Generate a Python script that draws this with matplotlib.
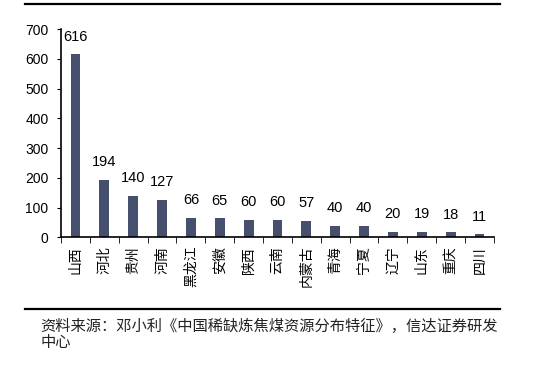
import matplotlib.pyplot as plt
from matplotlib.lines import Line2D
import numpy as np

plt.rcParams['font.family'] = ['Liberation Sans', 'Noto Sans CJK SC', 'DejaVu Sans']

provinces = ['山西', '河北', '贵州', '河南', '黑龙江', '安徽', '陕西', '云南',
             '内蒙古', '青海', '宁夏', '辽宁', '山东', '重庆', '四川']
reserves = [616, 194, 140, 127, 66, 65, 60, 60, 57, 40, 40, 20, 19, 18, 11]

bar_color = '#46506e'

fig = plt.figure(figsize=(5.5, 3.74), dpi=100)
ax = fig.add_axes([0.111, 0.365, 0.787, 0.557])

x = np.arange(len(provinces))
bars = ax.bar(x, reserves, width=0.34, color=bar_color)

# 数值标注
for xi, v in zip(x, reserves):
    ax.annotate(str(v), (xi, v), xytext=(0, 7.5), textcoords='offset points',
                ha='center', va='bottom', fontsize=10.5,
                family=['Liberation Sans', 'DejaVu Sans'])

ax.set_xlim(-0.5, len(provinces) - 0.5)
ax.set_ylim(0, 700)
ax.set_yticks(range(0, 701, 100))
ax.tick_params(axis='y', direction='out', length=3, labelsize=10, pad=6)

# x轴刻度线在类别之间，标签放在中心
ax.set_xticks(x)
ax.set_xticklabels(provinces, rotation=90, fontsize=10,
                   family=['Noto Sans CJK SC', 'DejaVu Sans'])
ax.tick_params(axis='x', which='major', length=0, pad=6)
ax.set_xticks(np.arange(-0.5, len(provinces), 1), minor=True)
ax.tick_params(axis='x', which='minor', direction='out', length=4)

ax.spines['right'].set_visible(False)
ax.spines['top'].set_visible(False)
ax.spines['left'].set_linewidth(1.2)
ax.spines['bottom'].set_linewidth(1.2)

# 上下分隔线
fig.add_artist(Line2D([0.045, 0.909], [0.989, 0.989], color='black', lw=1.6))
fig.add_artist(Line2D([0.045, 0.909], [0.174, 0.174], color='black', lw=1.6))

src_font = ['Noto Sans CJK SC', 'DejaVu Sans']
fig.text(0.073, 0.128, '资料来源：邓小利《中国稀缺炼焦煤资源分布特征》，信达证券研发',
         fontsize=11, va='center', ha='left', style='italic', family=src_font,
         color='#222222')
fig.text(0.073, 0.083, '中心', fontsize=11, va='center', ha='left',
         style='italic', family=src_font, color='#222222')

fig.savefig('out.png', dpi=100)
